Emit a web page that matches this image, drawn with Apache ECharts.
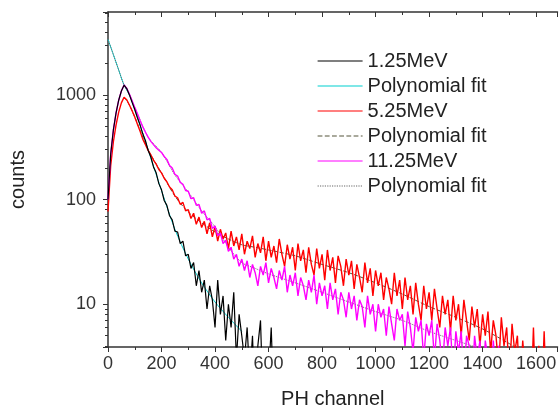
<!DOCTYPE html>
<html style="height: 100%">
<head>
    <meta charset="utf-8">
</head>
<body style="height: 100%; margin: 0; background: #fff">
<div id="container" style="width: 559px; height: 414px"></div>
<script type="text/javascript" src="https://cdn.jsdelivr.net/npm/echarts@6/dist/echarts.min.js"></script>
<script type="text/javascript">
    // PH channel of each sample (every 10 channels)
    var channels = [
        0, 10, 20, 30, 40, 50, 60, 70, 80, 90,
        100, 110, 120, 130, 140, 150, 160, 170, 180, 190,
        200, 210, 220, 230, 240, 250, 260, 270, 280, 290,
        300, 310, 320, 330, 340, 350, 360, 370, 380, 390,
        400, 410, 420, 430, 440, 450, 460, 470, 480, 490,
        500, 510, 520, 530, 540, 550, 560, 570, 580, 590,
        600, 610, 620, 630, 640, 650, 660, 670, 680, 690,
        700, 710, 720, 730, 740, 750, 760, 770, 780, 790,
        800, 810, 820, 830, 840, 850, 860, 870, 880, 890,
        900, 910, 920, 930, 940, 950, 960, 970, 980, 990,
        1000, 1010, 1020, 1030, 1040, 1050, 1060, 1070, 1080, 1090,
        1100, 1110, 1120, 1130, 1140, 1150, 1160, 1170, 1180, 1190,
        1200, 1210, 1220, 1230, 1240, 1250, 1260, 1270, 1280, 1290,
        1300, 1310, 1320, 1330, 1340, 1350, 1360, 1370, 1380, 1390,
        1400, 1410, 1420, 1430, 1440, 1450, 1460, 1470, 1480, 1490,
        1500, 1510, 1520, 1530, 1540, 1550, 1560, 1570, 1580, 1590,
        1600, 1610, 1620, 1630, 1640, 1650
    ];

    // counts, 1.25 MeV (0..650)
    var counts125 = [
        100, 270, 460, 670, 890, 1090, 1240, 1150, 1000, 850,
        725, 605, 515, 425, 365, 295, 255, 205, 180, 142,
        124, 98, 88, 70, 64, 50, 49, 38, 40, 29,
        30, 22, 25, 15, 21, 13, 17, 9, 15, 11,
        6, 17, 8, 12, 4.5, 10, 6, 13, 3, 8,
        5, 3, 6, 2, 5, 1, 4, 7, 1, 3,
        2, 6, 1, 3, 1, 2
    ];

    // counts, 5.25 MeV (0..1650)
    var counts525 = [
        77, 210, 355, 515, 685, 840, 950, 900, 800, 705,
        615, 525, 450, 378, 335, 295, 268, 238, 218, 194,
        180, 160, 148, 132, 124, 108, 104, 90, 94, 78,
        80, 66, 74, 58, 68, 54, 62, 47, 60, 44,
        55, 40, 52, 42, 48, 34, 50, 36, 44, 33,
        47, 30, 40, 34, 45, 28, 38, 31, 44, 26,
        40, 28, 36, 25, 42, 30, 23, 37, 27, 35,
        21, 38, 26, 33, 20, 35, 24, 19, 34, 22,
        30, 17, 33, 21, 28, 16, 29, 23, 15, 27,
        19, 26, 14, 24, 18, 13, 25, 16, 22, 12,
        21, 15, 20, 11, 18, 14, 10, 20, 12, 17,
        9, 18, 11, 15, 8, 16, 10, 7, 15, 9,
        13, 7, 14, 9, 6, 12, 8, 11, 5.5, 12,
        7, 10, 5, 11, 7, 4.5, 9.5, 6, 9, 4,
        8, 5, 8.5, 3.5, 7, 5, 2.5, 7.5, 4, 6,
        2, 6.5, 3.5, 5, 1.5, 4.5, 2, 3, 1, 6,
        1, 4, 1, 5.5, 1, 3
    ];

    // counts, 11.25 MeV (0..1520)
    var counts1125 = [
        100, 270, 460, 670, 890, 1090, 1245, 1160, 1020, 880,
        760, 660, 570, 495, 440, 395, 360, 335, 312, 296,
        282, 258, 242, 212, 200, 174, 168, 146, 140, 122,
        120, 102, 104, 88, 90, 74, 78, 64, 66, 53,
        56, 45, 48, 38, 41, 32, 35, 27, 30, 23,
        27, 21, 26, 18, 24, 20, 15, 23, 19, 25,
        16, 22, 18, 14, 21, 17, 23, 13, 19, 15,
        20, 12, 18, 15, 11, 17, 13, 19, 10, 16,
        12, 15, 9, 16, 11, 14, 8, 13, 11, 7.5,
        13, 9, 12, 7, 11, 9.5, 6, 12, 8, 10,
        5.5, 10, 7.5, 9, 5, 9.5, 6.5, 4.5, 9, 7,
        8, 4, 8.5, 6, 3.5, 7.5, 5.5, 7, 3, 6.5,
        5, 7, 3, 6.5, 4.5, 2.5, 6, 4, 6, 2,
        5.5, 3.5, 5.5, 2, 5, 4, 1.5, 5, 3, 4.5,
        1.5, 4.5, 3, 1.5, 4.5, 2, 4, 1, 3.5, 1,
        3, 1, 2
    ];

    // polynomial fits
    var fitChannels = [0, 20, 40, 60, 80, 100, 150, 200, 250, 300, 350, 400, 450, 500,
        550, 600, 700, 800, 900, 1000, 1100, 1200, 1300, 1400, 1500, 1600, 1650];
    var fit125 = [3400, 2430, 1730, 1240, 1000, 725, 300, 122, 52, 27, 16, 10.5, 7.5, 5.5];
    var fit525 = [null, null, null, 950, 800, 615, 300, 180, 108, 76, 60, 49, 42, 37,
        35, 33, 29, 24, 20, 16, 12.5, 9.5, 7.5, 5.8, 4.2, 3, 2.6];
    var fit1125 = [3400, 2430, 1730, 1245, 1020, 760, 395, 282, 172, 118, 78, 55, 35, 25,
        22, 19.5, 16, 13, 10.5, 8.5, 7, 5.5, 4.5, 3.7, 3];

    var xTicks = {min: 0, max: 1680, interval: 200};
    var yRange = {min: 3.9, max: 6200};

    function pairs(xs, ys) {
        var out = [];
        for (var i = 0; i < ys.length; i++) {
            out.push([xs[i], ys[i]]);
        }
        return out;
    }

    var font = 'Liberation Sans, Arial, sans-serif';
    var axisColor = '#333';

    var dom = document.getElementById("container");
    var myChart = echarts.init(dom, null, {renderer: 'canvas'});

    function dataLine(name, xs, ys, color, width) {
        return {
            name: name,
            type: 'line',
            data: pairs(xs, ys),
            symbol: 'none',
            xAxisIndex: 0,
            yAxisIndex: 0,
            lineStyle: {color: color, width: width},
            itemStyle: {color: color}
        };
    }

    function fitLine(name, ys, color, type) {
        var s = dataLine(name, fitChannels, ys, color, 1);
        s.smooth = 0.3;
        s.lineStyle.type = type;
        return s;
    }

    var option = {
        animation: false,
        backgroundColor: '#fff',
        grid: {left: 105, right: 0, top: 12, bottom: 66},
        legend: {
            orient: 'vertical',
            left: 317,
            top: 51,
            padding: 0,
            itemWidth: 45,
            itemHeight: 20,
            itemGap: 5,
            itemStyle: {opacity: 0},
            lineStyle: {width: 1.2},
            data: ['1.25MeV', '1.25MeV fit', '5.25MeV', '5.25MeV fit', '11.25MeV', '11.25MeV fit'],
            formatter: function (name) {
                return name.indexOf(' fit') > 0 ? 'Polynomial fit' : name;
            },
            textStyle: {fontFamily: font, fontSize: 20, color: '#222'}
        },
        xAxis: [{
            type: 'value',
            position: 'bottom',
            min: xTicks.min,
            max: xTicks.max,
            interval: xTicks.interval,
            name: 'PH channel',
            nameLocation: 'middle',
            nameGap: 42,
            nameTextStyle: {fontFamily: font, fontSize: 20, color: '#222'},
            axisLine: {lineStyle: {color: axisColor, width: 1.5}},
            axisTick: {length: 5, lineStyle: {color: axisColor}},
            minorTick: {show: true, splitNumber: 2, length: 3, lineStyle: {color: axisColor}},
            axisLabel: {
                fontFamily: font, fontSize: 18, color: '#333', margin: 8, showMaxLabel: false,
                formatter: function (v) { return String(v); }
            },
            splitLine: {show: false}
        }, {
            type: 'value',
            position: 'top',
            min: xTicks.min,
            max: xTicks.max,
            interval: xTicks.interval,
            axisLine: {lineStyle: {color: axisColor, width: 1.5}},
            axisTick: {inside: true, length: 5, lineStyle: {color: axisColor}},
            minorTick: {show: true, splitNumber: 2, length: 3, lineStyle: {color: axisColor}},
            axisLabel: {show: false},
            splitLine: {show: false}
        }],
        yAxis: [{
            type: 'log',
            logBase: 10,
            min: yRange.min,
            max: yRange.max,
            name: 'counts',
            nameLocation: 'middle',
            nameGap: 80,
            nameTextStyle: {fontFamily: font, fontSize: 20, color: '#222'},
            axisLine: {lineStyle: {color: axisColor, width: 1.5}},
            axisTick: {length: 5, lineStyle: {color: axisColor}},
            minorTick: {show: true, splitNumber: 9, length: 3, lineStyle: {color: axisColor}},
            axisLabel: {
                fontFamily: font, fontSize: 18, color: '#333', margin: 12,
                showMinLabel: false, showMaxLabel: false,
                formatter: function (v) { return String(Math.round(v)); }
            },
            splitLine: {show: false}
        }],
        series: [
            fitLine('1.25MeV fit', fit125, '#00d0d0', 'solid'),
            fitLine('5.25MeV fit', fit525, '#55553a', 'dashed'),
            fitLine('11.25MeV fit', fit1125, '#666666', 'dotted'),
            dataLine('5.25MeV', channels, counts525, '#ff0000', 1.4),
            dataLine('11.25MeV', channels, counts1125, '#ff00ff', 1.4),
            dataLine('1.25MeV', channels, counts125, '#000000', 1.2)
        ]
    };

    if (option && typeof option === "object") {
        myChart.setOption(option, true);
    }
</script>
</body>
</html>
